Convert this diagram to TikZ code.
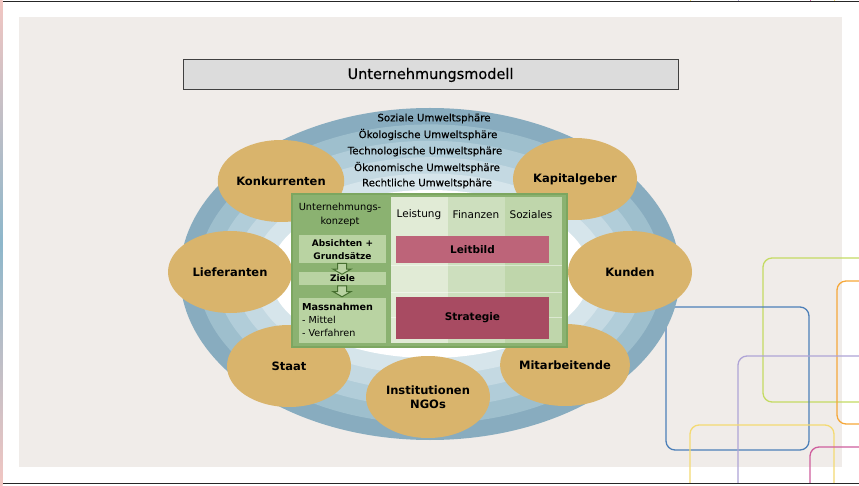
\documentclass[tikz,border=0pt]{standalone}
\usepackage{fontspec}
\setmainfont{DejaVu Sans}
\newfontfamily\semifont[FakeBold=0.4]{DejaVu Sans}
\usetikzlibrary{shapes.geometric,shapes.arrows}
\definecolor{slidebg}{HTML}{F0ECE9}
\definecolor{titlefill}{HTML}{DCDCDC}
\definecolor{titleline}{HTML}{404040}
\definecolor{ringA}{HTML}{88ACBF}
\definecolor{ringB}{HTML}{9EBFCD}
\definecolor{ringC}{HTML}{B1CDD9}
\definecolor{ringD}{HTML}{C4D9E2}
\definecolor{ringE}{HTML}{D6E5EB}
\definecolor{partnerfill}{HTML}{D9B46C}
\definecolor{greenouter}{HTML}{8BB271}
\definecolor{greenline}{HTML}{7CA660}
\definecolor{greenlight}{HTML}{B9D3A2}
\definecolor{colA}{HTML}{E1EBD6}
\definecolor{colB}{HTML}{CDDFBE}
\definecolor{colC}{HTML}{BFD6AB}
\definecolor{leitfill}{HTML}{BD6479}
\definecolor{stratfill}{HTML}{A84B62}
\definecolor{arrowline}{HTML}{466F30}
\definecolor{decoBlue}{HTML}{4C7FB8}
\definecolor{decoLime}{HTML}{C4DB63}
\definecolor{decoOrange}{HTML}{F6A83A}
\definecolor{decoPurple}{HTML}{AFA4D6}
\definecolor{decoYellow}{HTML}{F4DA72}
\definecolor{decoMagenta}{HTML}{CF5E9D}
\definecolor{stripPink}{HTML}{F2C6C2}
\definecolor{stripBlue}{HTML}{8DB7CB}
\begin{document}
\begin{tikzpicture}[x=1pt,y=-1pt,
  partner/.style={ellipse, fill=partnerfill, minimum width=124pt, minimum height=82pt,
    inner sep=0pt, font=\fontsize{11.5}{13}\selectfont\bfseries, align=center},
  ringtext/.style={font=\fontsize{10.2}{11}\selectfont\semifont, inner sep=0pt},
  headtext/.style={font=\fontsize{10.5}{11}\selectfont, inner sep=0pt},
  leftbox/.style={fill=greenlight, minimum width=87pt, inner sep=0pt,
    font=\fontsize{9}{12.5}\selectfont\bfseries, align=center},
  tablebox/.style={minimum width=153pt, inner sep=0pt, font=\fontsize{10.5}{12}\selectfont\bfseries},
  downarrow/.style={single arrow, rotate=-90, draw=arrowline, fill=greenlight, line width=1pt,
    minimum height=11pt, inner xsep=0pt, inner ysep=4pt, single arrow head extend=4.5pt,
    single arrow tip angle=120, single arrow head indent=0pt},
  deco/.style={rounded corners=9pt, line width=1.3pt}
]
\useasboundingbox (0,0) rectangle (859,486);
\fill[white] (0,0) rectangle (859,486);
% left strip
\shade[top color=stripPink, bottom color=stripPink, middle color=stripBlue] (0,0) rectangle (2.5,486);
% slide background
\fill[slidebg] (19,17) rectangle (842,467);
% decorative rounded rectangles
\begin{scope}
\clip (0,2) rectangle (859,483);
\draw[deco, decoLime] (763,258) rectangle (905,402);
\draw[deco, decoOrange] (837,281) rectangle (980,424);
\draw[deco, decoBlue] (666,307) rectangle (809,450);
\draw[deco, decoPurple] (738,356) rectangle (880,520);
\draw[deco, decoYellow] (690,425) rectangle (834,580);
\draw[deco, decoMagenta] (810,447) rectangle (950,600);
\end{scope}
\draw[line width=0.8pt, decoYellow] (690,0) -- (690,1);
\draw[line width=0.8pt, decoPurple] (738,0) -- (738,1);
\draw[line width=0.8pt, decoMagenta] (810,0) -- (810,1);
\draw[line width=0.8pt, decoYellow] (834,0) -- (834,1);
% frame lines
\draw[line width=1pt, black!85] (3,1.5) -- (859,1.5);
\draw[line width=1pt, black!85] (3,483.5) -- (859,483.5);
% title
\node[draw=titleline, fill=titlefill, line width=1pt, minimum width=495pt, minimum height=30pt,
  inner sep=0pt, font=\fontsize{14.5}{16}\selectfont\semifont] (title) at (430.5,75) {Unternehmungsmodell};
% rings
\fill[ringA] (430,274) ellipse [x radius=250pt, y radius=166pt];
\fill[ringB] (430,274) ellipse [x radius=232pt, y radius=149.6pt];
\fill[ringC] (430,274) ellipse [x radius=214pt, y radius=133.2pt];
\fill[ringD] (430,274) ellipse [x radius=196pt, y radius=116.8pt];
\fill[ringE] (430,274) ellipse [x radius=178pt, y radius=100.4pt];
\fill[white] (430,274) ellipse [x radius=160pt, y radius=84pt];
\node[ringtext] (r1) at (434,118.5) {Soziale Umweltsphäre};
\node[ringtext] (r2) at (428,134.5) {Ökologische Umweltsphäre};
\node[ringtext] (r3) at (425,151.5) {Technologische Umweltsphäre};
\node[ringtext] (r4) at (427,167.5) {Ökonomische Umweltsphäre};
\node[ringtext] (r5) at (427,183.5) {Rechtliche Umweltsphäre};
% partners
\node[partner] (kon) at (281,181) {Konkurrenten};
\node[partner] (kap) at (575,179) {Kapitalgeber};
\node[partner] (lie) at (230,272) {Lieferanten};
\node[partner] (kun) at (630,272) {Kunden};
\node[partner] (sta) at (289,366) {Staat};
\node[partner] (mit) at (565,365) {Mitarbeitende};
\node[partner, font=\fontsize{11.5}{14}\selectfont\bfseries] (ins) at (428,397) {Institutionen\\NGOs};
% company concept box
\fill[greenouter, draw=greenline, line width=1.5pt] (292,194) rectangle (567,347);
\fill[colA] (391,197) rectangle (448,343);
\fill[colB] (448,197) rectangle (505,343);
\fill[colC] (505,197) rectangle (562,343);
\draw[white, opacity=0.45, line width=0.6pt] (391,265) -- (562,265) (391,292) -- (562,292) (391,317) -- (562,317);
\node[font=\fontsize{9.8}{14}\selectfont, align=center, inner sep=0pt] (konz) at (340,215) {Unternehmungs-\\konzept};
\node[headtext] (h1) at (419,215) {Leistung};
\node[headtext] (h2) at (476,215) {Finanzen};
\node[headtext] (h3) at (531,215) {Soziales};
\node[tablebox, fill=leitfill, minimum height=27pt] (leit) at (472.5,249.5) {Leitbild};
\node[tablebox, fill=stratfill, minimum height=42pt] (strat) at (472.5,318) {Strategie};
\node[leftbox, minimum height=28pt] (abs) at (342.5,249.5) {Absichten +\\Grundsätze};
\node[leftbox, minimum height=13pt] (ziele) at (342.5,278.5) {Ziele};
\node[leftbox, minimum height=45pt, text width=81pt, align=left, font=\fontsize{9.6}{12.7}\selectfont] (mass) at (342.5,320)
  {\textbf{Massnahmen}\\- Mittel\\- Verfahren};
\node[downarrow] (arr1) at (342,267.5) {};
\node[downarrow] (arr2) at (342,290) {};
\end{tikzpicture}
\end{document}
